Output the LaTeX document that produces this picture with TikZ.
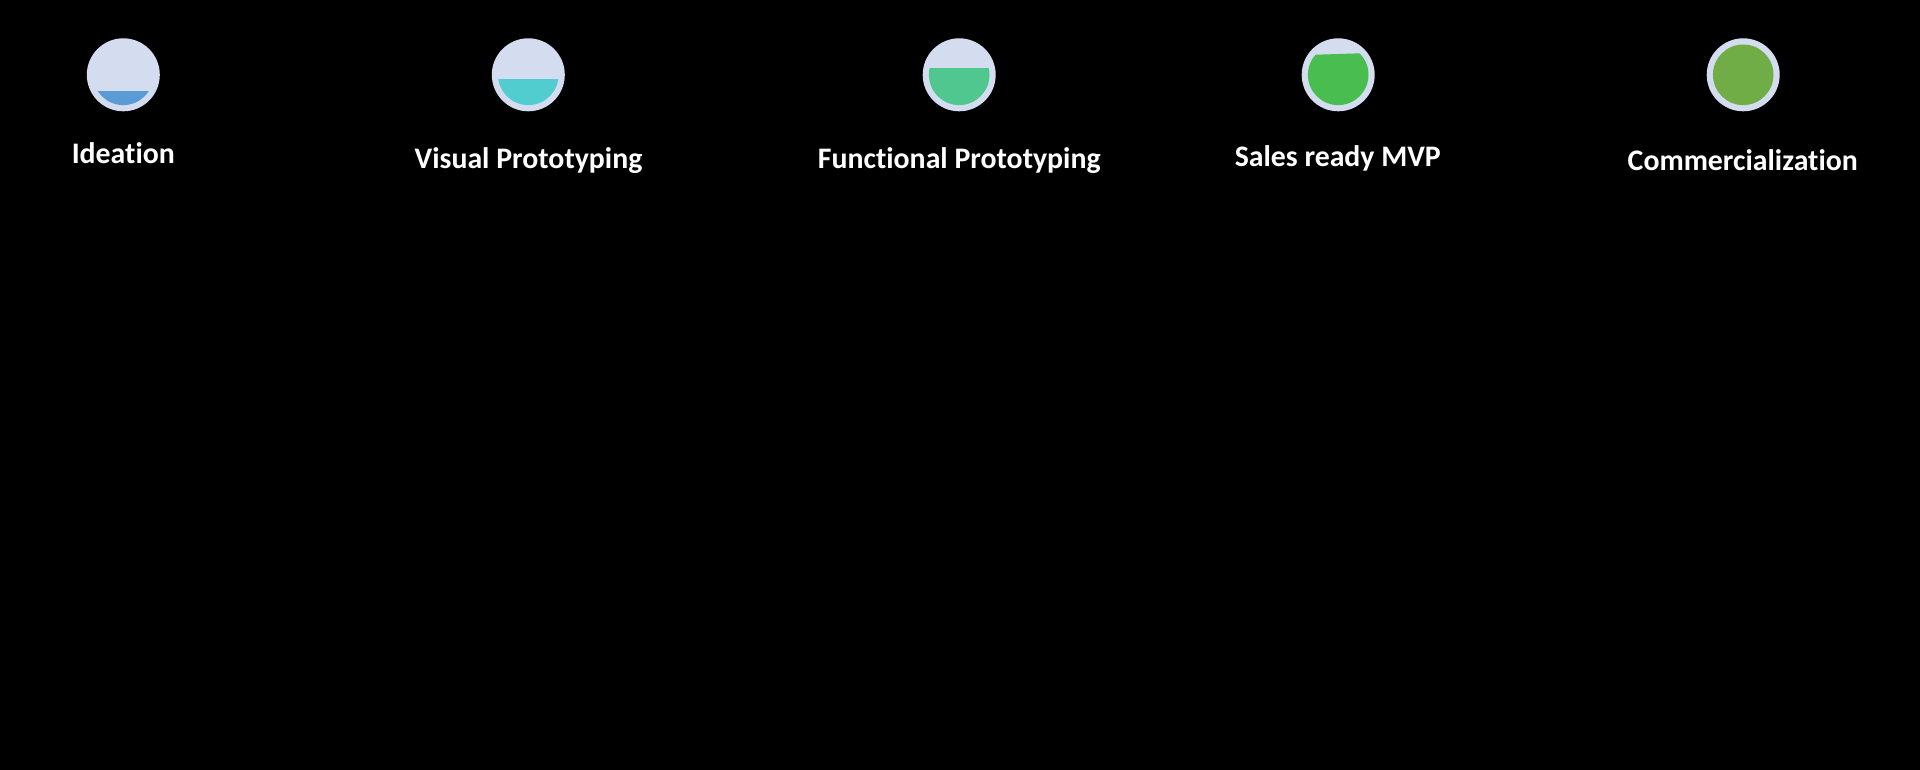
\documentclass[tikz,border=0pt]{standalone}
\usepackage{fontspec}
\setmainfont{Carlito}[RawFeature=-liga]
\definecolor{ringblue}{HTML}{D3DDEF}
\definecolor{lvlA}{HTML}{5B9BD5}
\definecolor{lvlB}{HTML}{52CDCF}
\definecolor{lvlC}{HTML}{4FC78E}
\definecolor{lvlD}{HTML}{4ABD50}
\definecolor{lvlE}{HTML}{70AD47}
\begin{document}
\begin{tikzpicture}[x=1pt,y=-1pt,
  ring/.style={circle,fill=ringblue,minimum size=73pt,inner sep=0pt},
  stage/.style={anchor=base,text=white,font=\bfseries\fontsize{29.8}{34}\selectfont,inner sep=0pt}]
\fill[black] (0,0) rectangle (1920,770);
\useasboundingbox (0,0) rectangle (1920,770);
% rings
\node[ring] (c1) at (123.3,74.8) {};
\node[ring] (c2) at (528.3,74.8) {};
\node[ring] (c3) at (959.2,74.8) {};
\node[ring] (c4) at (1338.2,74.8) {};
\node[ring] (c5) at (1743.2,74.8) {};
% liquid levels inside each ring (y grows downwards)
\begin{scope}
  \clip (c1) circle (30.3);
  \fill[lvlA] (c1.center) ++(-40,16.2) rectangle ++(80,40);
\end{scope}
\begin{scope}
  \clip (c2) circle (30.3);
  \fill[lvlB] (c2.center) ++(-40,4.5) rectangle ++(80,40);
\end{scope}
\begin{scope}
  \clip (c3) circle (30.3);
  \fill[lvlC] (c3.center) ++(-40,-7.1) rectangle ++(80,50);
\end{scope}
\begin{scope}
  \clip (c4) circle (30.3);
  \fill[lvlD] (c4.center) ++(-40,-19.5) -- ++(80,-2.6) -- ++(0,70) -- ++(-80,0) -- cycle;
\end{scope}
\fill[lvlE] (c5) circle (30.3);
% labels
\node[stage] (t1) at (123.3,163.5) {Ideation};
\node[stage] (t2) at (528.5,168.2) {Visual Prototyping};
\node[stage] (t3) at (959.2,168.2) {Functional Prototyping};
\node[stage] (t4) at (1337.8,167) {Sales ready MVP};
\node[stage] (t5) at (1742.8,171) {Commercialization};
\end{tikzpicture}
\end{document}
